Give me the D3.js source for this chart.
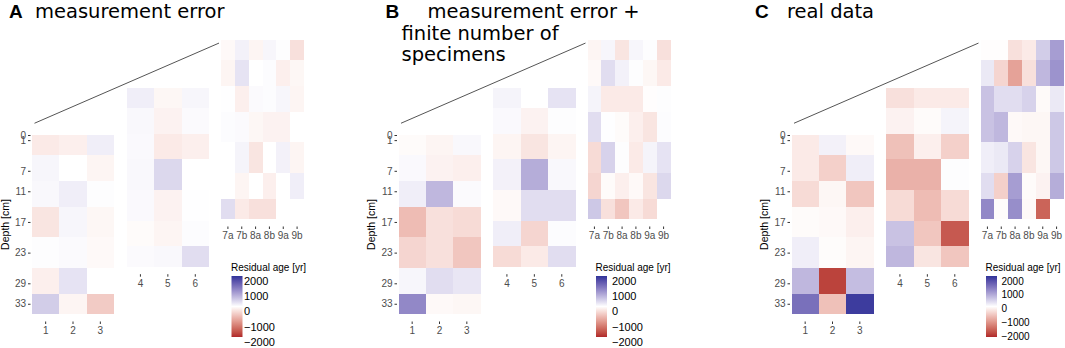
<!DOCTYPE html>
<html>
<head>
<meta charset="utf-8">
<script src="https://cdn.jsdelivr.net/npm/d3@7"></script>
<style>
  body { margin: 0; background: #fff; }
  svg { display: block; }
  .tick text { fill: #4d4d4d; }
  .tick line { stroke: #333; }
</style>
</head>
<body>
<div id="chart"></div>
<script>
// sample depths (tile centres), tile edges and axis ticks [cm]
const depths = [1, 7, 11, 17, 23, 29, 33];
const depthEdges = [0, 4, 9, 14, 20, 26, 31, 35];
const depthTicks = [0, 1, 7, 11, 17, 23, 29, 33];

const coresLeft = ["1", "2", "3"];
const coresMid = ["4", "5", "6"];
const coresRight = ["7a", "7b", "8a", "8b", "9a", "9b"];

const legendBreaks = [2000, 1000, 0, -1000, -2000];

// residual age [yr], one row per depth, one column per core
const measLeft = [
  [-200, -150, 150], [80, 0, -100], [60, 150, 20], [-250, 80, -80],
  [20, 40, -60], [-150, 250, 0], [450, -100, -500]
];
const measMid = [
  [150, -80, 80], [60, -120, 40], [50, -200, -150], [60, 350, 0],
  [50, -120, 10], [-40, -100, 30], [40, 60, 300]
];
const measRight = [
  [-60, 120, -100, 80, 20, -300],
  [-100, 250, 0, 30, -150, -80],
  [10, -150, 40, 30, 80, -100],
  [30, 40, -80, -120, -120, 0],
  [0, 100, -250, 0, 120, -100],
  [0, -100, 0, -150, 0, 150],
  [300, -200, -300, -300, null, null]
];

const finiteLeft = [
  [-40, -100, 60], [50, -120, -150], [150, 650, 40], [-650, -300, -350],
  [-400, -300, -550], [80, 300, 220], [1100, -60, -80]
];
const finiteMid = [
  [100, 0, 250], [50, -120, 20], [-100, -250, -100], [120, 750, 60],
  [-60, 300, 300], [150, -400, 30], [-350, -200, 300]
];
const finiteRight = [
  [-100, 80, -250, 80, 20, -300],
  [-60, 300, 120, 20, -80, -200],
  [100, -200, -200, -200, -20, 20],
  [300, 10, -40, -150, -250, 30],
  [-350, 400, 20, -200, 100, 250],
  [-400, -40, -150, -60, -250, 350],
  [500, -300, -550, -200, -350, null]
];

const realLeft = [
  [-200, 120, -60], [-200, -450, 150], [-350, -80, -550], [-40, -60, -150],
  [150, -30, -100], [650, -1800, 600], [1350, -600, 1900]
];
const realMid = [
  [-300, -200, -200], [-120, -40, 100], [-600, -150, -450], [-750, -750, 20],
  [-350, -650, -350], [550, -550, -1600], [650, -250, -550]
];
const realRight = [
  [-20, -20, -300, -200, 450, 900],
  [200, -400, -900, -300, 650, 1000],
  [550, 300, 300, 400, -50, 200],
  [550, 650, -60, -80, -80, 500],
  [150, 200, 400, -250, -80, 500],
  [300, -450, 900, -40, -120, 750],
  [1100, -30, 1050, -60, -1500, null]
];

const width = 1065, height = 348;

const svg = d3.select("#chart")
  .append("svg")
  .attr("width", width)
  .attr("height", height);

const colour = d3.scaleLinear()
  .domain([-2000, 0, 2000])
  .range(["#b0282a", "#ffffff", "#2f3399"])
  .interpolate(d3.interpolateLab)
  .clamp(true);

// legend gradient
const grad = svg.append("defs").append("linearGradient")
  .attr("id", "resid-grad")
  .attr("x1", 0).attr("x2", 0).attr("y1", 0).attr("y2", 1);
grad.selectAll("stop")
  .data(d3.range(2000, -2001, -250))
  .join("stop")
  .attr("offset", (d, i) => i / 16)
  .attr("stop-color", d => colour(d));

const pxPerCm = 5.114;
const axisFont = "Liberation Sans, Arial, sans-serif";

const panels = [
  { dx: 0, left: measLeft, mid: measMid, right: measRight,
    letter: { x: 9, t: "A" },
    lines: [{ x: 35, y: 17.5, t: "measurement error" }],
    legend: { x: 231, labels: [281, 342], gap: 1.5, size: 11 } },
  { dx: 366.5, left: finiteLeft, mid: finiteMid, right: finiteRight,
    letter: { x: 385.5, t: "B" },
    lines: [{ x: 427.5, y: 17.5, t: "measurement error +" },
            { x: 401.5, y: 39.5, t: "finite number of" },
            { x: 401.5, y: 61, t: "specimens" }],
    legend: { x: 595.5, labels: [281, 342], gap: 5, size: 11 } },
  { dx: 759.5, left: realLeft, mid: realMid, right: realRight,
    letter: { x: 755, t: "C" },
    lines: [{ x: 787, y: 17.5, t: "real data" }],
    legend: { x: 985.5, labels: [281, 336], gap: 4.5, size: 10 } }
];

function drawBlock(g, cores, values, x0, x1, top) {
  let x = d3.scaleBand().domain(cores).range([x0, x1]);
  let y = d3.scaleLinear().domain([0, 35]).range([top, top + 35 * pxPerCm]);

  let cells = [];
  values.forEach((row, i) => row.forEach((v, j) => {
    if (v !== null) cells.push({ core: cores[j], i: i, v: v });
  }));

  g.append("g")
    .selectAll("rect")
    .data(cells)
    .join("rect")
    .attr("x", d => x(d.core))
    .attr("width", x.bandwidth())
    .attr("y", d => y(depthEdges[d.i]))
    .attr("height", d => y(depthEdges[d.i + 1]) - y(depthEdges[d.i]))
    .attr("fill", d => colour(d.v))
    .attr("shape-rendering", "crispEdges");

  g.append("g")
    .attr("transform", `translate(0,${y(35) + 7.5})`)
    .call(d3.axisBottom(x).tickSize(2.5).tickPadding(3))
    .call(a => a.select(".domain").remove())
    .selectAll("text")
    .style("font-family", axisFont)
    .style("font-size", "10px");

  return { x, y };
}

panels.forEach(p => {
  let g = svg.append("g");

  // titles
  svg.append("text")
    .attr("x", p.letter.x).attr("y", 17.5)
    .style("font-family", axisFont)
    .style("font-weight", "bold")
    .style("font-size", "19px")
    .text(p.letter.t);
  p.lines.forEach(l => {
    svg.append("text")
      .attr("x", l.x).attr("y", l.y)
      .style("font-family", "DejaVu Sans, Verdana, sans-serif")
      .style("font-size", "19.5px")
      .text(l.t);
  });

  let L = drawBlock(g, coresLeft, p.left, p.dx + 32, p.dx + 114, 135);
  drawBlock(g, coresMid, p.mid, p.dx + 126.7, p.dx + 209, 87.7);
  let R = drawBlock(g, coresRight, p.right, p.dx + 221, p.dx + 304, 40);

  // depth axis on left block
  let yAx = g.append("g")
    .attr("transform", `translate(${p.dx + 30.5},0)`)
    .call(d3.axisLeft(L.y).tickValues(depthTicks).tickSize(2.5).tickPadding(2))
    .call(a => a.select(".domain").remove());
  yAx.selectAll("text")
    .style("font-family", axisFont)
    .style("font-size", "10px");

  g.append("text")
    .attr("transform", `translate(${p.dx + 8.5},${(L.y(0) + L.y(35)) / 2}) rotate(-90)`)
    .attr("text-anchor", "middle")
    .style("font-family", axisFont)
    .style("font-size", "10.5px")
    .text("Depth [cm]");

  // connector line from left block to right block
  g.append("line")
    .attr("x1", L.x.range()[0] + 2.5).attr("y1", L.y(-2.3))
    .attr("x2", R.x.range()[0] - 2).attr("y2", R.y(0.6))
    .attr("stroke", "#555")
    .attr("stroke-width", 1);

  // legend
  let lg = g.append("g");
  lg.append("text")
    .attr("x", p.legend.x).attr("y", 270.5)
    .style("font-family", axisFont)
    .style("font-size", "10px")
    .text("Residual age [yr]");
  lg.append("rect")
    .attr("x", p.legend.x + 0.5).attr("y", 276)
    .attr("width", 11).attr("height", 61)
    .attr("fill", "url(#resid-grad)");
  let ly = d3.scaleLinear().domain([2000, -2000]).range(p.legend.labels);
  lg.selectAll(".lab")
    .data(legendBreaks)
    .join("text")
    .attr("class", "lab")
    .attr("x", p.legend.x + 11.5 + p.legend.gap)
    .attr("y", d => ly(d))
    .attr("dy", "0.35em")
    .style("font-family", axisFont)
    .style("font-size", p.legend.size + "px")
    .text(d => d3.format("")(d).replace("-", "\u2212"));
});
</script>
</body>
</html>
